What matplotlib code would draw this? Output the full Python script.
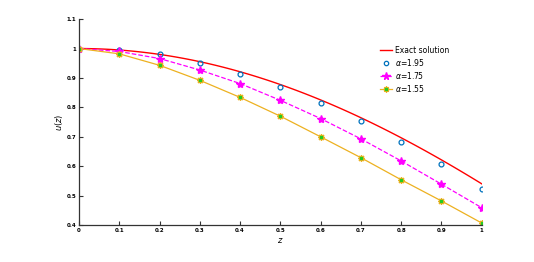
import numpy as np
import matplotlib
matplotlib.use("Agg")
import matplotlib.pyplot as plt
from matplotlib.legend_handler import HandlerTuple

z = [0, 0.1, 0.2, 0.3, 0.4, 0.5, 0.6, 0.7, 0.8, 0.9, 1.0]
z_exact = np.linspace(0, 1, 101)
u_exact = np.cos(z_exact)
u_195 = [1.0, 0.995, 0.980, 0.951, 0.915, 0.869, 0.815, 0.754, 0.681, 0.606, 0.522]
u_175 = [1.0, 0.990, 0.966, 0.927, 0.881, 0.824, 0.762, 0.693, 0.618, 0.539, 0.459]
u_155 = [1.0, 0.982, 0.943, 0.892, 0.834, 0.770, 0.700, 0.629, 0.554, 0.482, 0.407]

fig = plt.figure(figsize=(5.34, 2.62), dpi=100)
ax = fig.add_axes([0.148, 0.141, 0.754, 0.786])

h_ex, = ax.plot(z_exact, u_exact, color='#FF0000', lw=1.0)
h_195, = ax.plot(z, u_195, ls='none', marker='o', ms=3.5, mfc='none',
                 mec='#0072BD', mew=0.9)
h_175, = ax.plot(z, u_175, ls='--', color='#FF00FF', lw=0.9, marker='*',
                 ms=6, mfc='#FF00FF', mec='#FF00FF')
h_155, = ax.plot(z, u_155, ls='-', color='#EDB120', lw=0.9, marker=(8, 2, 0),
                 ms=5, mew=0.9, mec='#EDB120')
h_155c, = ax.plot(z, u_155, ls='none', marker='s', ms=1.6, mfc='#22CC22',
                  mec='#22CC22')

ax.set_xlim(0, 1)
ax.set_ylim(0.4, 1.1)
ax.set_xticks(z)
ax.set_xticklabels(['0', '0.1', '0.2', '0.3', '0.4', '0.5', '0.6', '0.7',
                    '0.8', '0.9', '1'])
ax.set_yticks([0.4, 0.5, 0.6, 0.7, 0.8, 0.9, 1.0, 1.1])
ax.set_yticklabels(['0.4', '0.5', '0.6', '0.7', '0.8', '0.9', '1', '1.1'])
ax.tick_params(direction='in', length=3, width=0.8, labelsize=4, pad=2,
               color='#333333')
for lbl in ax.get_xticklabels() + ax.get_yticklabels():
    lbl.set_fontweight('bold')
ax.spines['top'].set_visible(False)
ax.spines['right'].set_visible(False)
for s in ('left', 'bottom'):
    ax.spines[s].set_linewidth(0.9)
    ax.spines[s].set_color('#333333')

ax.set_xlabel(r'$z$', fontsize=6, labelpad=2)
ax.set_ylabel(r'$u(z)$', fontsize=6, labelpad=1)

ax.legend([h_ex, h_195, h_175, (h_155, h_155c)],
          ['Exact solution', r'$\alpha$=1.95', r'$\alpha$=1.75', r'$\alpha$=1.55'],
          handler_map={tuple: HandlerTuple(ndivide=1, pad=0)},
          loc='upper left', bbox_to_anchor=(0.74, 0.885), frameon=False,
          fontsize=5.5, handlelength=1.6, handletextpad=0.3, labelspacing=0.25,
          borderaxespad=0, markerscale=0.9)

fig.savefig('out.png', dpi=100)
